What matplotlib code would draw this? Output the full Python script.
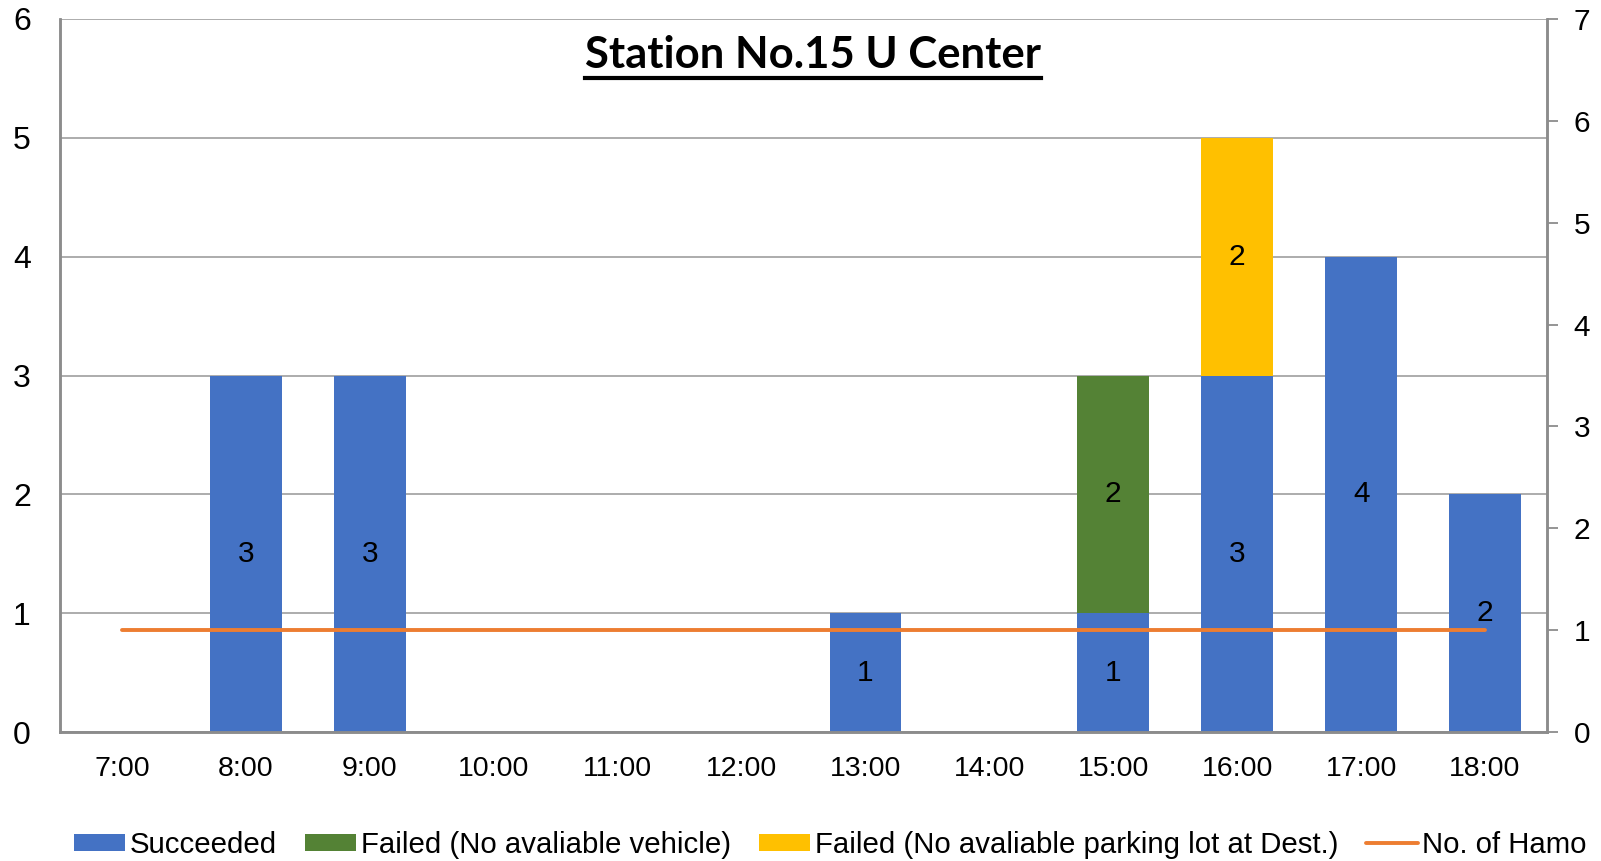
import matplotlib
matplotlib.use("Agg")
import matplotlib.pyplot as plt
import numpy as np

hours = ["7:00", "8:00", "9:00", "10:00", "11:00", "12:00", "13:00", "14:00", "15:00", "16:00", "17:00", "18:00"]
succeeded = [0, 3, 3, 0, 0, 0, 1, 0, 1, 3, 4, 2]
failed_vehicle = [0, 0, 0, 0, 0, 0, 0, 0, 2, 0, 0, 0]
failed_parking = [0, 0, 0, 0, 0, 0, 0, 0, 0, 2, 0, 0]
no_of_hamo = [1] * 12
title = "Station No.15 U Center"

plt.rcParams['font.family'] = ['Liberation Sans', 'DejaVu Sans']

fig = plt.figure(figsize=(16.01, 8.61), dpi=100)
W, H = 1601, 861
L, R, T, B = 60, 1547, 19, 732
ax = fig.add_axes([L / W, 1 - B / H, (R - L) / W, (B - T) / H])
ax2 = ax.twinx()

x = np.arange(len(hours))
bw = 0.578
blue, green, yellow, orange = "#4472C4", "#548235", "#FFC000", "#ED7D31"
grey = "#8c8c8c"

b1 = ax.bar(x, succeeded, bw, color=blue, label="Succeeded", zorder=2)
b2 = ax.bar(x, failed_vehicle, bw, bottom=succeeded, color=green, label="Failed (No avaliable vehicle)", zorder=2)
bottom3 = [a + b for a, b in zip(succeeded, failed_vehicle)]
b3 = ax.bar(x, failed_parking, bw, bottom=bottom3, color=yellow, label="Failed (No avaliable parking lot at Dest.)", zorder=2)

for vals, bots in [(succeeded, [0] * 12), (failed_vehicle, succeeded), (failed_parking, bottom3)]:
    for xi, v, bo in zip(x, vals, bots):
        if v > 0:
            ax2.text(xi, (bo + v / 2) * 7 / 6, str(v), ha='center', va='center',
                     fontsize=21.5, color='black', zorder=5)

ln, = ax2.plot(x, no_of_hamo, color=orange, lw=2.8, label="No. of Hamo", solid_capstyle='round', zorder=3)

ax.set_xlim(-0.5, len(hours) - 0.5)
ax.set_ylim(0, 6)
ax2.set_ylim(0, 7)
ax.set_yticks(range(0, 7))
ax2.set_yticks(range(0, 8))
ax.set_xticks(x)
ax.set_xticklabels(hours)

ax.yaxis.grid(True, color="#a6a6a6", lw=1.3, zorder=0)
ax.set_axisbelow(True)
for a in (ax, ax2):
    a.spines['top'].set_visible(False)
    for s in ('left', 'right', 'bottom'):
        a.spines[s].set_color(grey)
        a.spines[s].set_linewidth(1.8)
ax.tick_params(axis='y', length=0, pad=21, labelsize=23)
ax.tick_params(axis='x', length=0, pad=17, labelsize=20.5)
ax2.tick_params(axis='y', length=8, width=1.3, color=grey, pad=11, labelsize=21.5)

t = fig.text(812.5 / W, 1 - 68 / H, title, ha='center', va='baseline', fontsize=30,
             fontweight='bold', family=['Lato', 'DejaVu Sans'])
fig.canvas.draw()
bb = t.get_window_extent()
t.set_fontsize(30 * 455 / bb.width)
fig.canvas.draw()
bb = t.get_window_extent()
y_line = 1 - 78 / H
fig.add_artist(plt.Line2D([bb.x0 / W, bb.x1 / W], [y_line, y_line], color='black', lw=3))

handles = [b1, b2, b3, ln]
labels = [h.get_label() for h in handles]
fig.legend(handles, labels, loc='center', bbox_to_anchor=(830 / W, 1 - 845 / H), ncol=4,
           frameon=False, fontsize=21.2, handlelength=1.75, handleheight=0.55,
           handletextpad=0.15, columnspacing=0.95, borderpad=0, borderaxespad=0)

fig.savefig("out.png", dpi=100)
